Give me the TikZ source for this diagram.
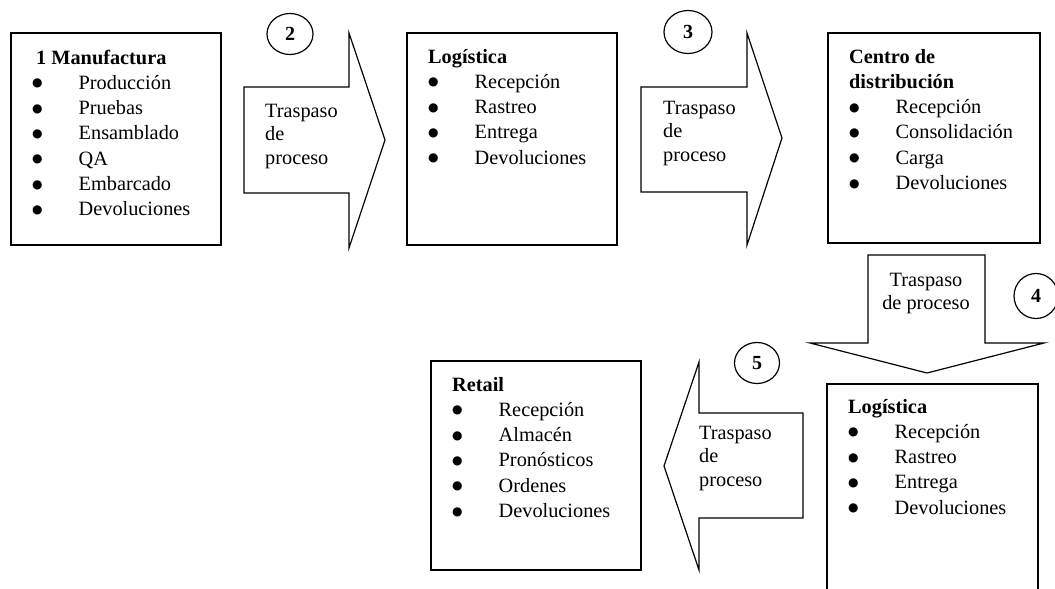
\documentclass[tikz,border=0pt]{standalone}
\usepackage{fontspec}
\setmainfont{Liberation Serif}
\newfontfamily\simbolo{DejaVu Sans}
\usetikzlibrary{shapes.geometric,calc,positioning}

\newcommand{\titulo}[1]{\textbf{#1}\\}
\newcommand{\punto}[1]{\makebox[46.5pt][l]{\raisebox{2.5pt}{\simbolo\fontsize{12}{12}\selectfont ●}}#1\\}

\begin{document}
\begin{tikzpicture}[x=1pt,y=-1pt,
  caja/.style={draw, rectangle, line width=1.2pt, minimum width=210pt, minimum height=212pt, inner sep=0pt, outer sep=0pt, anchor=north west},
  lista/.style={anchor=base west, inner sep=0pt, font=\fontsize{20.3}{25.3}\selectfont},
  paso/.style={inner sep=0pt, font=\fontsize{20.3}{23.5}\selectfont},
  num/.style={draw, ellipse, line width=1.2pt, minimum width=46pt, minimum height=41pt, inner sep=0pt, font=\fontsize{20}{20}\selectfont\bfseries},
  flecha/.style={draw, line width=1.2pt, line join=miter}]

\useasboundingbox (0,0) rectangle (1055,589);
\clip (0,0) rectangle (1055,589);
\fill[white] (0,0) rectangle (1055,589);

% cajas
\node[caja] (manu) at (11,33) {};
\node[caja] (log1) at (407,33) {};
\node[caja, minimum width=212pt, minimum height=210pt] (cdd) at (828,33) {};
\node[caja, minimum width=211pt, minimum height=240pt] (log2) at (827,384) {};
\node[caja, minimum height=209pt] (retail) at (431,361) {};

% contenido
\node[lista] (manutxt) at ([shift={(21,31)}]manu.north west) {\begin{tabular}[t]{@{}l@{}}
\titulo{\hspace*{4pt}1 Manufactura}
\punto{Producción}
\punto{Pruebas}
\punto{Ensamblado}
\punto{QA}
\punto{Embarcado}
\punto{Devoluciones}
\end{tabular}};

\node[lista] (log1txt) at ([shift={(21,30)}]log1.north west) {\begin{tabular}[t]{@{}l@{}}
\titulo{Logística}
\punto{Recepción}
\punto{Rastreo}
\punto{Entrega}
\punto{Devoluciones}
\end{tabular}};

\node[lista] (cddtxt) at ([shift={(21,30)}]cdd.north west) {\begin{tabular}[t]{@{}l@{}}
\titulo{Centro de}
\titulo{distribución}
\punto{Recepción}
\punto{Consolidación}
\punto{Carga}
\punto{Devoluciones}
\end{tabular}};

\node[lista] (log2txt) at ([shift={(21,29)}]log2.north west) {\begin{tabular}[t]{@{}l@{}}
\titulo{Logística}
\punto{Recepción}
\punto{Rastreo}
\punto{Entrega}
\punto{Devoluciones}
\end{tabular}};

\node[lista] (retailtxt) at ([shift={(21,30)}]retail.north west) {\begin{tabular}[t]{@{}l@{}}
\titulo{Retail}
\punto{Recepción}
\punto{Almacén}
\punto{Pronósticos}
\punto{Ordenes}
\punto{Devoluciones}
\end{tabular}};

% flechas de traspaso
\draw[flecha] (244,87) -- (349,87) -- (349,33) -- (385,140) -- (349,248) -- (349,193) -- (244,193) -- cycle;
\draw[flecha] (641,87) -- (747,87) -- (747,33) -- (782,138) -- (747,245) -- (747,192) -- (641,192) -- cycle;
\draw[flecha] (868,255) -- (985,255) -- (985,343) -- (1044,343) -- (927,373) -- (810,343) -- (868,343) -- cycle;
\draw[flecha] (803,413) -- (699,413) -- (699,362) -- (664,466) -- (699,570) -- (699,518) -- (803,518) -- cycle;

\node[paso, anchor=base west] (paso2) at (265,117) {\begin{tabular}[t]{@{}l@{}}Traspaso\\de\\proceso\end{tabular}};
\node[paso, anchor=base west] (paso3) at (663,114) {\begin{tabular}[t]{@{}l@{}}Traspaso\\de\\proceso\end{tabular}};
\node[paso, anchor=base] (paso4) at (926,286) {\begin{tabular}[t]{@{}c@{}}Traspaso\\de proceso\end{tabular}};
\node[paso, anchor=base west] (paso5) at (699,439) {\begin{tabular}[t]{@{}l@{}}Traspaso\\de\\proceso\end{tabular}};

% numeros
\node[num] (n2) at (290,34) {2};
\node[num, minimum width=48pt, minimum height=43pt] (n3) at (688,32) {3};
\node[num, minimum width=44pt, minimum height=45pt] (n4) at (1036,296) {4};
\node[num, minimum width=45pt] (n5) at (757,363) {5};

\end{tikzpicture}
\end{document}
